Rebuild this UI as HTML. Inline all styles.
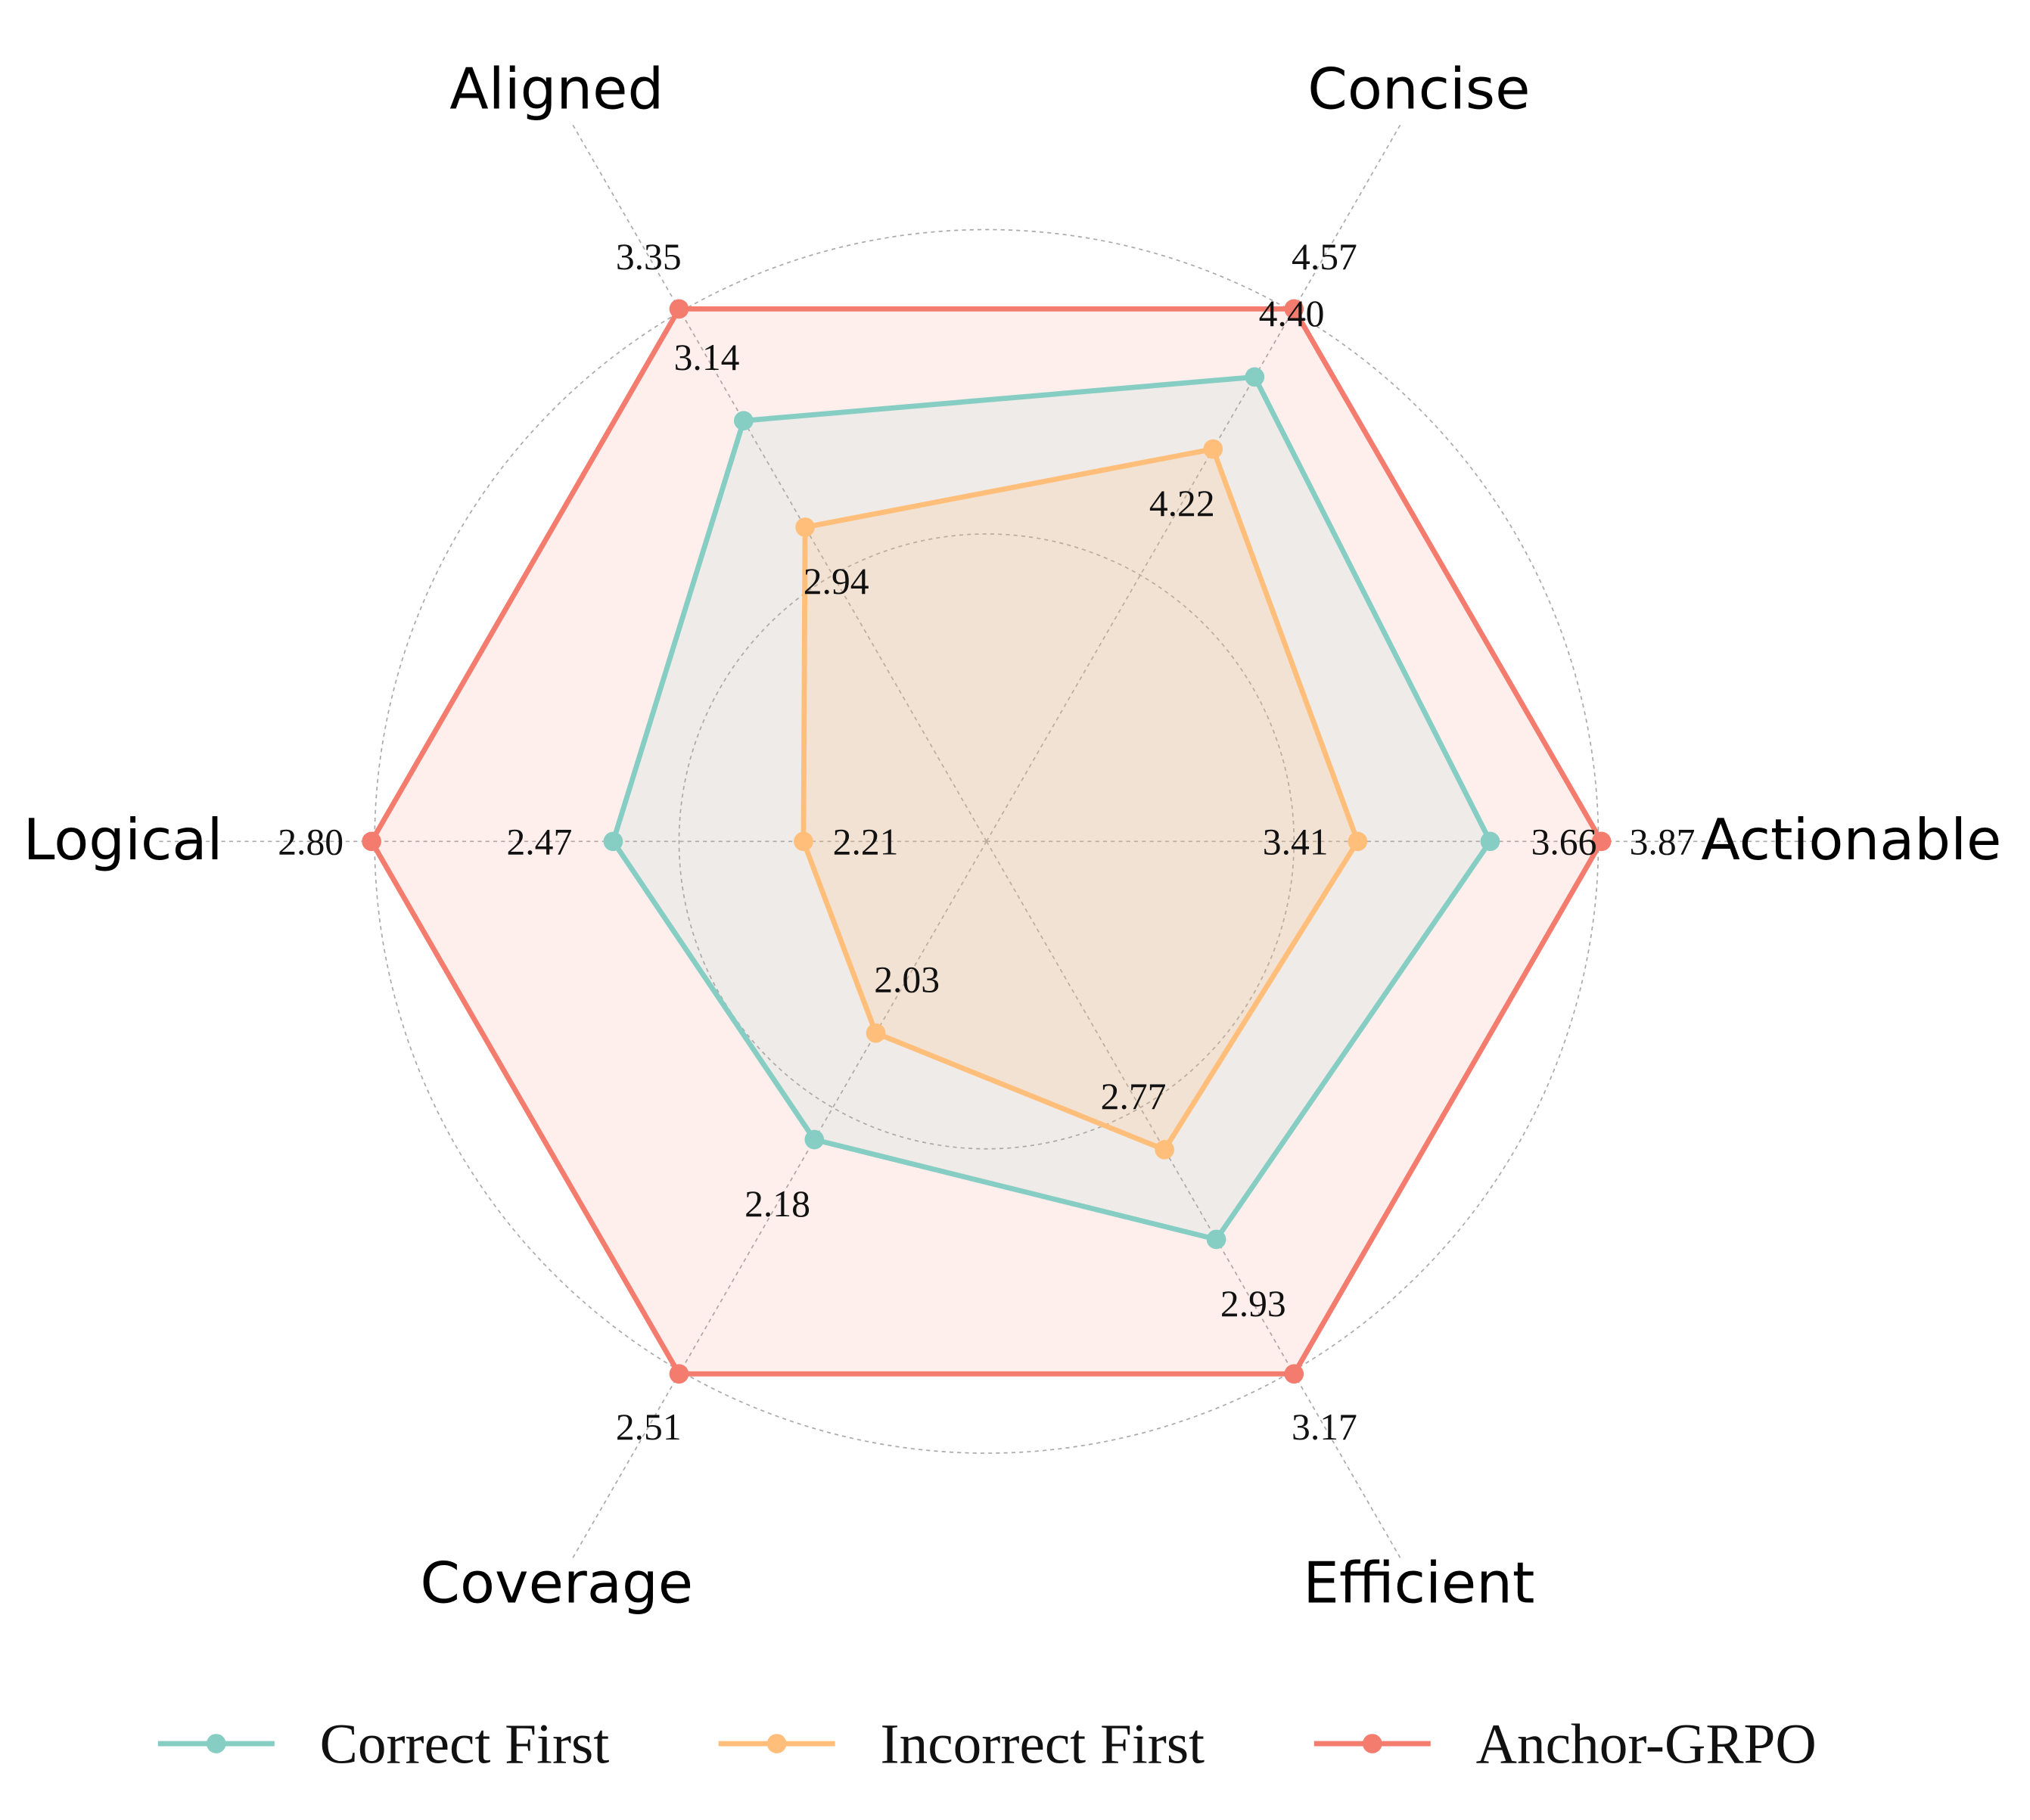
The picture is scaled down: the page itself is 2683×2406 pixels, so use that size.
<!DOCTYPE html>
<html><head><meta charset="utf-8"><style>
html,body{margin:0;padding:0;background:#fff;}
svg{display:block;}
</style></head><body>
<svg id="chart" width="2683" height="2406" viewBox="0 0 1568 1406" preserveAspectRatio="none" xmlns="http://www.w3.org/2000/svg">
<g id="grid"></g>
<g id="series"></g>
<g id="labels"></g>
<g id="legend"></g>
</svg>
<script>
const axes = ["Actionable","Concise","Aligned","Logical","Coverage","Efficient"];
const axisMin = [2.71,3.24,2.35,1.96,1.76,2.22];
const axisMax = [3.87,4.57,3.35,2.80,2.51,3.17];
const seriesNames = ["Anchor-GRPO","Correct First","Incorrect First"];
const anchorVals = [3.87,4.57,3.35,2.80,2.51,3.17];
const correctVals = [3.66,4.40,3.14,2.47,2.18,2.93];
const incorrectVals = [3.41,4.22,2.94,2.21,2.03,2.77];
const anchorLabels = ["3.87","4.57","3.35","2.80","2.51","3.17"];
const correctLabels = ["3.66","4.40","3.14","2.47","2.18","2.93"];
const incorrectLabels = ["3.41","4.22","2.94","2.21","2.03","2.77"];

const NS="http://www.w3.org/2000/svg";
const cx=762, cy=650, R=475;
function mk(tag,attrs,parent){const e=document.createElementNS(NS,tag);for(const k in attrs)e.setAttribute(k,attrs[k]);parent.appendChild(e);return e;}
function ang(i){return i*Math.PI/3;}
function rScale(i,v){return R*(v-axisMin[i])/(axisMax[i]-axisMin[i]);}
function pt(i,r){return [cx+r*Math.cos(ang(i)), cy-r*Math.sin(ang(i))];}

const grid=document.getElementById('grid');
[0.5,0.995].forEach((f,k)=>{
  const c=mk('circle',{cx:cx,cy:cy,r:R*f,fill:'none',stroke:'#aaa','stroke-width':1,'stroke-dasharray':'3,3'},grid);
  
  
});
axes.forEach((a,i)=>{
  const p=pt(i,640);
  const l=mk('line',{x1:cx,y1:cy,x2:p[0],y2:p[1],stroke:'#aaa','stroke-width':1,'stroke-dasharray':'3,3'},grid);
  
  
});

const ser=document.getElementById('series');
const lab=document.getElementById('labels');
const defs=[
  {vals:anchorVals,labs:anchorLabels,color:'#f47c6e',fill:'rgba(250,127,111,0.12)',off:47,key:'anchor-grpo'},
  {vals:correctVals,labs:correctLabels,color:'#86cdc4',fill:'rgba(142,207,201,0.13)',off:57,key:'correct-first'},
  {vals:incorrectVals,labs:incorrectLabels,color:'#ffbe7a',fill:'rgba(255,190,122,0.18)',off:-48,key:'incorrect-first'}
];
defs.forEach(d=>{
  const pts=d.vals.map((v,i)=>pt(i,rScale(i,v)));
  const poly=mk('polygon',{points:pts.map(p=>p.join(',')).join(' '),fill:d.fill,stroke:d.color,'stroke-width':4,'stroke-linejoin':'miter'},ser);
  
  
  pts.forEach((p,i)=>{
    const c=mk('circle',{cx:p[0],cy:p[1],r:7.5,fill:d.color},ser);
    
    
    const q=pt(i,rScale(i,d.vals[i])+d.off);
    const t=mk('text',{x:q[0],y:q[1]+10,'text-anchor':'middle','font-family':'"Liberation Serif",serif','font-size':29,fill:'#111'},lab);
    t.textContent=d.labs[i];
    
    
  });
});

const axisPos=[[1430,648],[1096,68],[430,68],[95,648],[430,1222],[1096,1222]];
axes.forEach((a,i)=>{
  const t=mk('text',{x:axisPos[i][0],y:axisPos[i][1]+16,'text-anchor':'middle','font-family':'"DejaVu Sans","Liberation Sans",sans-serif','font-size':44,fill:'#000'},lab);
  t.textContent=a;
  
  
});

const leg=document.getElementById('legend');
const legItems=[["Correct First",'#86cdc4',122],["Incorrect First",'#ffbe7a',555],["Anchor-GRPO",'#f47c6e',1015]];
legItems.forEach(([n,c,x])=>{
  const g=mk('g',{},leg);
  
  
  mk('line',{x1:x,y1:1347,x2:x+90,y2:1347,stroke:c,'stroke-width':4},g);
  mk('circle',{cx:x+45,cy:1347,r:7.5,fill:c},g);
  const t=mk('text',{x:x+125,y:1362,'font-family':'"Liberation Serif",serif','font-size':44,fill:'#111'},g);
  t.textContent=n;
});
</script>
</body></html>
